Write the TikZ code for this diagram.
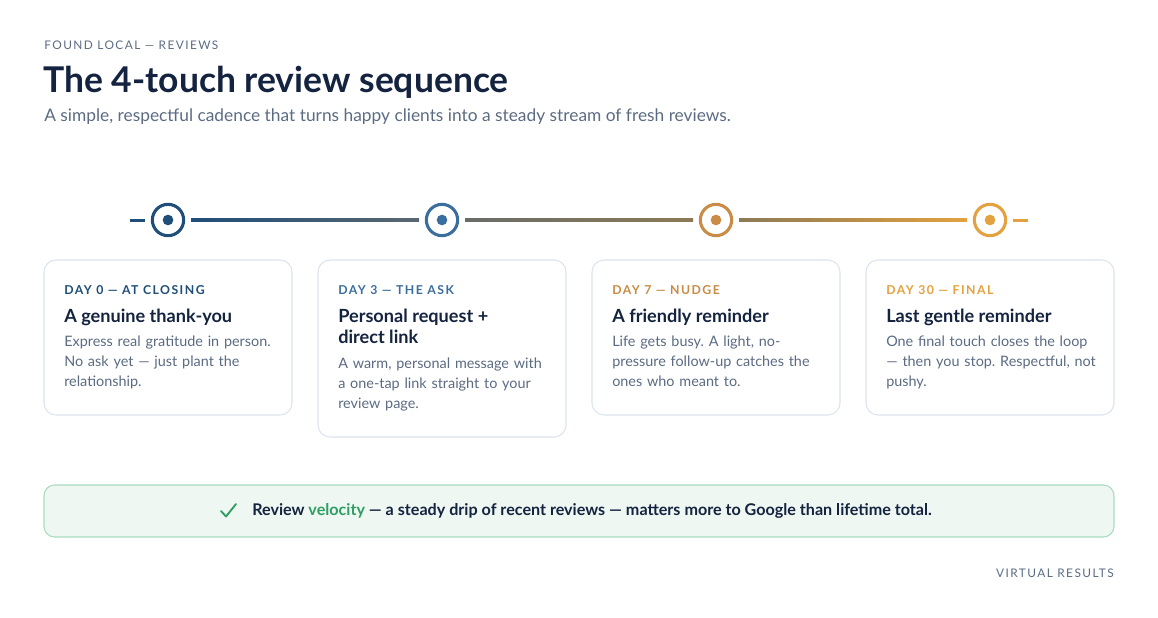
\documentclass[tikz,border=0pt]{standalone}
\usepackage{fontspec}
\setmainfont{Lato}
\newfontfamily\spacedfont[LetterSpace=12]{Lato}
\frenchspacing
\definecolor{navy}{HTML}{14233F}
\definecolor{grey}{HTML}{5B6B82}
\definecolor{cA}{HTML}{1F4E79}
\definecolor{cB}{HTML}{3B6E9E}
\definecolor{cC}{HTML}{C98B45}
\definecolor{cD}{HTML}{E3A23F}
\definecolor{mA}{HTML}{5A6770}
\definecolor{mB}{HTML}{8C7A55}
\definecolor{cardline}{HTML}{DCE4EE}
\definecolor{bannerfill}{HTML}{EEF7F2}
\definecolor{bannerline}{HTML}{A9DCC0}
\definecolor{vgreen}{HTML}{2E9E63}
\tikzset{
  card/.style={draw=cardline, line width=0.8pt, fill=white, rounded corners=9pt},
  dotring/.style={circle, draw=#1, line width=2.3pt, fill=white, minimum size=23.5pt, inner sep=0pt},
  dotcore/.style={circle, fill=#1, minimum size=8pt, inner sep=0pt},
  daylabel/.style={anchor=west, font=\spacedfont\bfseries\fontsize{9.2}{10}\selectfont, text=#1},
  cardtitle/.style={anchor=north west, font=\bfseries\fontsize{13.6}{15.5}\selectfont, text=navy, align=left, inner sep=0pt},
  cardbody/.style={anchor=north west, font=\fontsize{10.8}{15}\selectfont, text=grey, align=left, inner sep=0pt, text width=190pt},
}
\begin{document}
\begin{tikzpicture}[x=0.75pt,y=-0.75pt]
\useasboundingbox (0,0) rectangle (1158,618);
\node[anchor=west, font=\spacedfont\fontsize{8.9}{10}\selectfont, text=grey, inner sep=0pt] (hdr) at (44,45) {FOUND LOCAL — REVIEWS};
\node[anchor=west, font=\bfseries\fontsize{26.6}{30}\selectfont, text=navy, inner sep=0pt] (ttl) at (43,82) {The 4-touch review sequence};
\node[anchor=west, font=\fontsize{13}{15}\selectfont, text=grey, inner sep=0pt] (sub) at (44,117) {A simple, respectful cadence that turns happy clients into a steady stream of fresh reviews.};
% timeline segments
\fill[cA] (130,218.5) rectangle (145,221.5);
\shade[left color=cA, right color=mA] (191,218.5) rectangle (419,221.5);
\shade[left color=mA!70!mB, right color=mB] (465,218.5) rectangle (693,221.5);
\shade[left color=mB, right color=cD] (739,218.5) rectangle (967,221.5);
\fill[cD] (1013,218.5) rectangle (1028,221.5);
\foreach \i/\x/\c in {1/168/cA,2/442/cB,3/716/cC,4/990/cD}{
  \node[dotring=\c] (ring\i) at (\x,220) {};
  \node[dotcore=\c] (core\i) at (ring\i.center) {};
}
% cards
\draw[card] (44,260) rectangle (292,415);
\draw[card] (318,260) rectangle (566,437);
\draw[card] (592,260) rectangle (840,415);
\draw[card] (866,260) rectangle (1114,415);
\node[daylabel=cA, inner sep=0pt] (l1) at (64,290) {DAY 0 — AT CLOSING};
\node[daylabel=cB, inner sep=0pt] (l2) at (338,290) {DAY 3 — THE ASK};
\node[daylabel=cC, inner sep=0pt] (l3) at (612,290) {DAY 7 — NUDGE};
\node[daylabel=cD, inner sep=0pt] (l4) at (886,290) {DAY 30 — FINAL};
\node[cardtitle] (t1) at (64,309) {A genuine thank-you};
\node[cardtitle] (t2) at (338,309) {Personal request +\\direct link};
\node[cardtitle] (t3) at (612,309) {A friendly reminder};
\node[cardtitle] (t4) at (886,309) {Last gentle reminder};
\node[cardbody] (b1) at (64,336) {Express real gratitude in person.\\No ask yet — just plant the\\relationship.};
\node[cardbody] (b2) at (338,358) {A warm, personal message with\\a one-tap link straight to your\\review page.};
\node[cardbody] (b3) at (612,336) {Life gets busy. A light, no-\\pressure follow-up catches the\\ones who meant to.};
\node[cardbody] (b4) at (886,336) {One final touch closes the loop\\— then you stop. Respectful, not\\pushy.};
% banner
\draw[draw=bannerline, fill=bannerfill, line width=0.8pt, rounded corners=8pt] (44,485) rectangle (1114,537);
\draw[vgreen, line width=1.4pt, line cap=round, line join=round] (221,511) -- (226,516.5) -- (236,504);
\node[anchor=west, font=\bfseries\fontsize{12.1}{14}\selectfont, text=navy, inner sep=0pt] (msg) at (252,511) {Review \textcolor{vgreen}{velocity} — a steady drip of recent reviews — matters more to Google than lifetime total.};
\node[anchor=east, font=\spacedfont\fontsize{8.9}{10}\selectfont, text=grey, inner sep=0pt] (ftr) at (1114,573) {VIRTUAL RESULTS};
\end{tikzpicture}
\end{document}
